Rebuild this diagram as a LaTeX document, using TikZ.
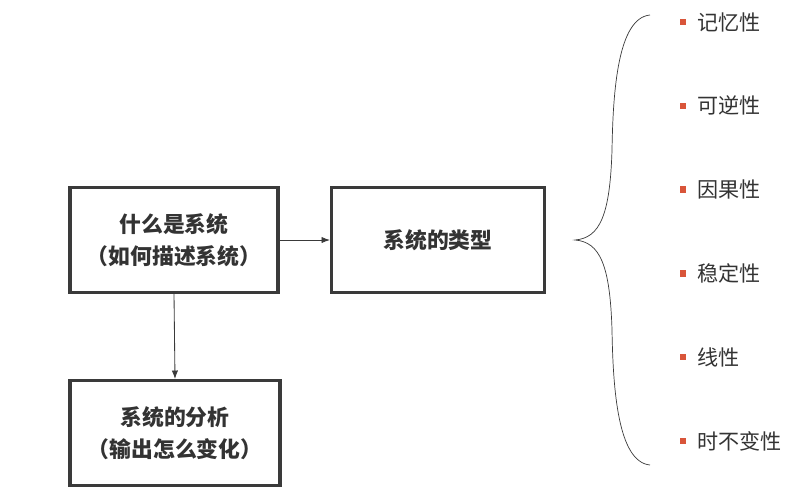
\documentclass[tikz,border=0pt]{standalone}
\usepackage{fontspec}
\newfontfamily\cjk{Noto Sans CJK SC}
\usetikzlibrary{arrows.meta,positioning,shadows}
\definecolor{boxline}{HTML}{3A3A3A}
\definecolor{bulletred}{HTML}{D9553A}
\definecolor{txt}{HTML}{333333}
\begin{document}
\begin{tikzpicture}[x=0.025cm, y=-0.025cm,
        box/.style = {draw=boxline, line width=2.2pt, fill=white,
                      drop shadow={shadow xshift=0.8pt, shadow yshift=-0.8pt,
                                   opacity=0.25},
                      minimum height=105*0.025cm, align=center,
                      text=txt, font=\cjk\bfseries\fontsize{15.5}{23}\selectfont},
        link/.style = {draw=boxline, line width=0.6pt,
                       -{Latex[length=6pt,width=4.5pt]}},
        bul/.style  = {fill=bulletred, minimum size=4.5pt, inner sep=0pt},
        prop/.style = {text=txt, font=\cjk\fontsize{15}{17}\selectfont,
                       inner sep=0pt, anchor=west}
                                ]
        \useasboundingbox (0,0) rectangle (800,501);
        % the three boxes
        \node[box, minimum width=208*0.025cm] (what) at (174,240)
            {什么是系统\\（如何描述系统）};
        \node[box, minimum width=213*0.025cm] (kinds) at (438,240)
            {系统的类型};
        \node[box, minimum width=210*0.025cm] (analysis) at (175,433)
            {系统的分析\\（输出怎么变化）};

        % connectors
        \draw[link] (what) -- (kinds);
        \draw[link] (what.south) -- (analysis.north);

        % the brace
        \coordinate (tip) at (575,240);
        \draw[boxline, line width=0.5pt]
            (650,15) .. controls (618,18) and (613,90) .. (612,150)
                     .. controls (610,215) and (600,238) .. (tip)
                     .. controls (600,242) and (610,265) .. (612,330)
                     .. controls (613,390) and (618,462) .. (650,465);

        % the kinds of systems
        \foreach \name [count=\i from 0] in
                {记忆性, 可逆性, 因果性, 稳定性, 线性, 时不变性} {
            \node[bul] (b\i) at (683,{22+83.8*\i}) {};
            \node[prop, right=7.5pt of b\i] (p\i) {\name};
        }
\end{tikzpicture}
\end{document}
